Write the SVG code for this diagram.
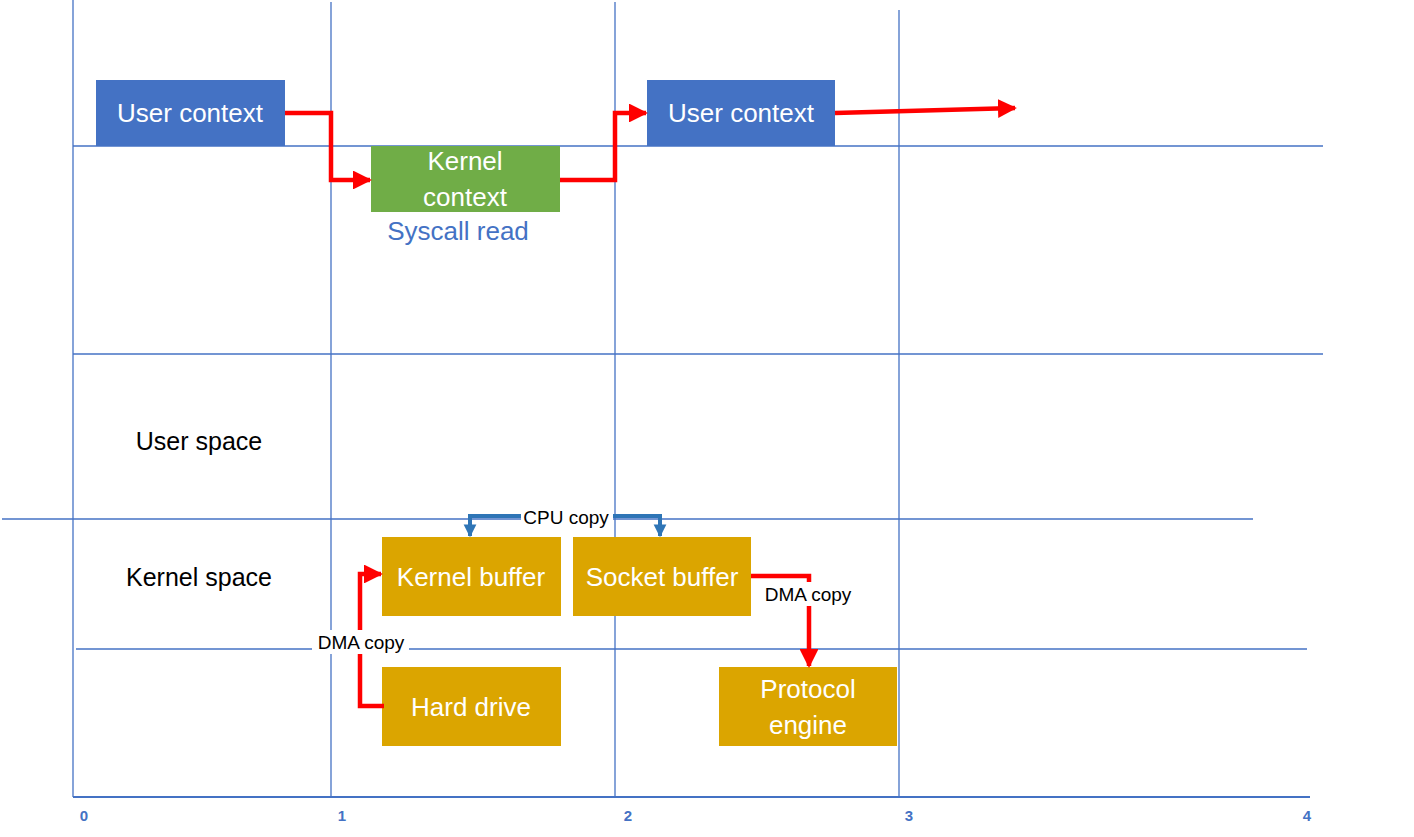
<svg xmlns="http://www.w3.org/2000/svg" width="1414" height="837" viewBox="0 0 1414 837">
<defs>
<style>
.grid{stroke:#4472C4;stroke-width:1.3;fill:none}
.blue{fill:#4472C4}
.green{fill:#70AD47}
.gold{fill:#DBA500}
.wt{fill:#fff;font-family:"Liberation Sans",Arial,sans-serif;font-size:26px;text-anchor:middle}
.bt{fill:#000;font-family:"Liberation Sans",Arial,sans-serif;font-size:25px;text-anchor:middle}
.lbl{fill:#000;font-family:"Liberation Sans",Arial,sans-serif;font-size:19px;text-anchor:middle}
.ax{fill:#4472C4;font-family:"Liberation Sans",Arial,sans-serif;font-size:15px;font-weight:bold;text-anchor:middle}
.red{stroke:#FF0000;stroke-width:4.5;fill:none}
.cpu{stroke:#2E75B6;stroke-width:4;fill:none}
</style>
<marker id="ar" viewBox="0 0 10 10" refX="9" refY="5" markerWidth="4.2" markerHeight="4.2" orient="auto" markerUnits="strokeWidth">
<path d="M0,0 L10,5 L0,10 z" fill="#FF0000"/>
</marker>
<marker id="ab" viewBox="0 0 10 10" refX="9" refY="5" markerWidth="3.2" markerHeight="4.2" orient="auto" markerUnits="strokeWidth">
<path d="M0,0 L10,5 L0,10 z" fill="#2E75B6"/>
</marker>
</defs>
<rect width="1414" height="837" fill="#fff"/>
<g id="grid">
<line class="grid" x1="73" y1="0" x2="73" y2="797"/>
<line class="grid" x1="331" y1="2" x2="331" y2="797"/>
<line class="grid" x1="615" y1="2" x2="615" y2="797"/>
<line class="grid" x1="899" y1="10" x2="899" y2="797"/>
<line class="grid" x1="73" y1="146" x2="1323" y2="146"/>
<line class="grid" x1="73" y1="354" x2="1323" y2="354"/>
<line class="grid" x1="2" y1="519" x2="1253" y2="519"/>
<line class="grid" x1="76" y1="649" x2="1307" y2="649"/>
<line x1="73" y1="797" x2="1310" y2="797" stroke="#4472C4" stroke-width="2"/>
<text class="ax" x="84" y="821">0</text>
<text class="ax" x="342" y="821">1</text>
<text class="ax" x="628" y="821">2</text>
<text class="ax" x="909" y="821">3</text>
<text class="ax" x="1307" y="821">4</text>
</g>
<g id="user-context-1">
<rect class="blue" x="96" y="80" width="189" height="66"/>
<text class="wt" x="190" y="122">User context</text>
</g>
<g id="kernel-context">
<rect class="green" x="371" y="146" width="189" height="66"/>
<text class="wt" x="465" y="170">Kernel</text>
<text class="wt" x="465" y="206">context</text>
</g>
<g id="syscall-read">
<text class="wt" x="458" y="240" style="fill:#4472C4">Syscall read</text>
</g>
<g id="user-context-2">
<rect class="blue" x="647" y="80" width="188" height="66"/>
<text class="wt" x="741" y="122">User context</text>
</g>
<g id="user-space"><text class="bt" x="199" y="450">User space</text></g>
<g id="kernel-space"><text class="bt" x="199" y="586">Kernel space</text></g>
<g id="kernel-buffer">
<rect class="gold" x="382" y="537" width="179" height="79"/>
<text class="wt" x="471" y="586">Kernel buffer</text>
</g>
<g id="socket-buffer">
<rect class="gold" x="573" y="537" width="178" height="79"/>
<text class="wt" x="662" y="586">Socket buffer</text>
</g>
<g id="hard-drive">
<rect class="gold" x="382" y="667" width="179" height="79"/>
<text class="wt" x="471" y="716">Hard drive</text>
</g>
<g id="protocol-engine">
<rect class="gold" x="719" y="667" width="178" height="79"/>
<text class="wt" x="808" y="698">Protocol</text>
<text class="wt" x="808" y="734">engine</text>
</g>
<g id="connectors">
<path class="red" d="M285,113 H331 V180 H370" marker-end="url(#ar)"/>
<path class="red" d="M560,180 H615 V113 H646" marker-end="url(#ar)"/>
<path class="red" d="M835,113 L1015,108" marker-end="url(#ar)"/>
<path class="red" d="M384,706 H360 V574 H381" marker-end="url(#ar)"/>
<path class="red" d="M751,576 H809 V666" marker-end="url(#ar)"/>
<path class="cpu" d="M522,516 H470 V536" marker-end="url(#ab)"/>
<path class="cpu" d="M612,516 H660 V536" marker-end="url(#ab)"/>
<rect x="521" y="505" width="92" height="24" fill="#fff"/>
<text class="lbl" x="566" y="524">CPU copy</text>
<rect x="312" y="630" width="97" height="24" fill="#fff"/>
<text class="lbl" x="361" y="649">DMA copy</text>
<rect x="759" y="582" width="99" height="24" fill="#fff"/>
<text class="lbl" x="808" y="601">DMA copy</text>
</g>
</svg>
